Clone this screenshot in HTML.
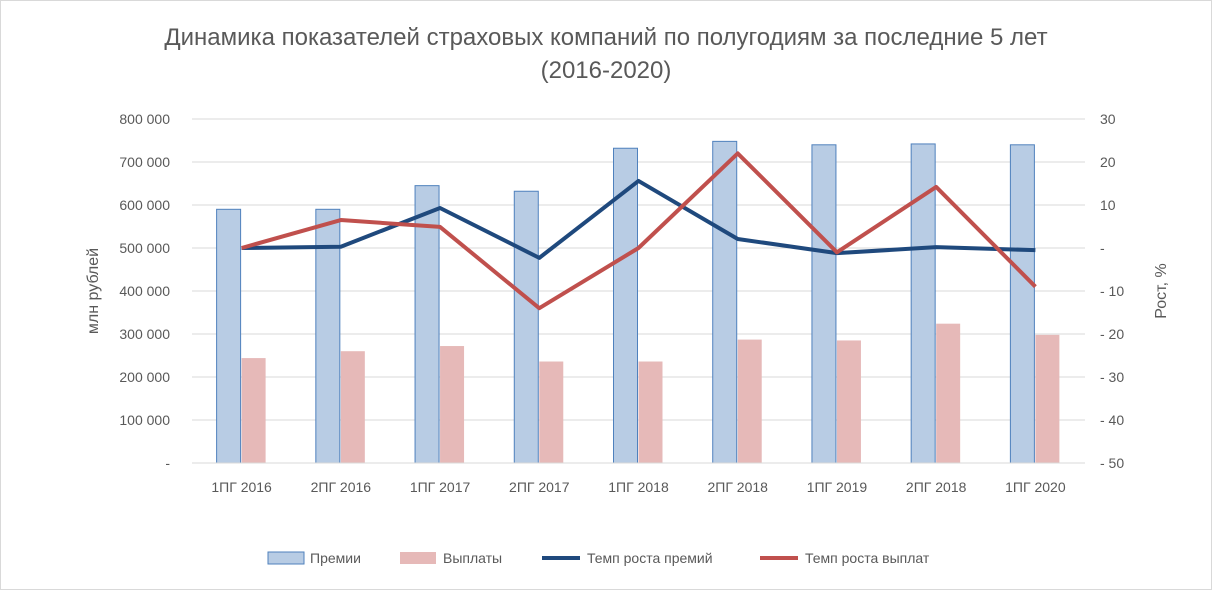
<!DOCTYPE html>
<html><head><meta charset="utf-8"><style>
body{margin:0;background:#fff;font-family:"Liberation Sans",sans-serif}
svg text{font-family:"Liberation Sans",sans-serif;fill:#595959}
</style></head><body>
<svg id="chart" width="1212" height="590" xmlns="http://www.w3.org/2000/svg">
<rect x="0.5" y="0.5" width="1211" height="589" fill="#fff" stroke="#d9d9d9"/>
<text x="606" y="45" text-anchor="middle" font-size="24">Динамика показателей страховых компаний по полугодиям за последние 5 лет</text>
<text x="606" y="78" text-anchor="middle" font-size="24">(2016-2020)</text>
<text transform="translate(98,291) rotate(-90)" text-anchor="middle" font-size="16">млн рублей</text>
<text transform="translate(1166,291) rotate(-90)" text-anchor="middle" font-size="16">Рост, %</text>
<g id="grid"></g><g id="bars"></g><g id="lines"></g><g id="axes"></g>
<g font-size="14">
<rect x="268" y="552" width="36" height="12" fill="#b8cce4" stroke="#4f81bd"/><text x="310" y="563">Премии</text>
<rect x="400" y="552" width="36" height="12" fill="#e6b9b8"/><text x="443" y="563">Выплаты</text>
<line x1="542" y1="558" x2="580" y2="558" stroke="#1f497d" stroke-width="4"/><text x="587" y="563">Темп роста премий</text>
<line x1="760" y1="558" x2="798" y2="558" stroke="#c0504d" stroke-width="4"/><text x="805" y="563">Темп роста выплат</text>
</g>
</svg>
<script>
const categories=["1ПГ 2016","2ПГ 2016","1ПГ 2017","2ПГ 2017","1ПГ 2018","2ПГ 2018","1ПГ 2019","2ПГ 2018","1ПГ 2020"];
const premiums=[590000,590000,645000,632000,732000,748000,740000,742000,740000];
const payouts=[244000,260000,272000,236000,236000,287000,285000,324000,298000];
const premGrowth=[0,0.3,9.3,-2.3,15.6,2.1,-1.2,0.2,-0.5];
const payGrowth=[0,6.5,4.9,-14,0,22,-1,14.2,-9];
const leftTicks=["-","100 000","200 000","300 000","400 000","500 000","600 000","700 000","800 000"];
const rightTicks=["- 50","- 40","- 30","- 20","- 10","-","10","20","30"];
const NS="http://www.w3.org/2000/svg";
const x0=192,x1=1085,yTop=119,yBot=463;
const band=(x1-x0)/categories.length;
const yL=v=>yBot-(v/800000)*(yBot-yTop);
const yR=v=>yBot-((v+50)/80)*(yBot-yTop);
const xc=i=>x0+band*(i+0.5);
function mk(tag,attrs,parent){const e=document.createElementNS(NS,tag);for(const k in attrs)e.setAttribute(k,attrs[k]);document.getElementById(parent).appendChild(e);return e;}
leftTicks.forEach((t,i)=>{
 const y=yBot-i*(yBot-yTop)/8;
 const g=mk("line",{x1:x0,x2:x1,y1:y,y2:y,stroke:"#d9d9d9"},"grid");
 
 
 const l=mk("text",{x:170,y:y+5,"text-anchor":"end","font-size":"14"},"axes");l.textContent=t;
 
 
 const r=mk("text",{x:1100,y:y+5,"font-size":"14"},"axes");r.textContent=rightTicks[i];
 
 
});
const bw=24;
categories.forEach((c,i)=>{
 const cx=xc(i);
 const b1=mk("rect",{x:cx-bw-1,y:yL(premiums[i]),width:bw,height:yBot-yL(premiums[i]),fill:"#b8cce4",stroke:"#4f81bd","stroke-width":1},"bars");
 
 
 const b2=mk("rect",{x:cx,y:yL(payouts[i]),width:bw,height:yBot-yL(payouts[i]),fill:"#e6b9b8"},"bars");
 
 
 const t=mk("text",{x:cx,y:492,"text-anchor":"middle","font-size":"14"},"axes");t.textContent=c;
 
 
});
const ax=mk("line",{x1:x0,x2:x1,y1:yBot,y2:yBot,stroke:"#d9d9d9"},"axes");


const p1=mk("polyline",{points:premGrowth.map((v,i)=>xc(i)+","+yR(v)).join(" "),fill:"none",stroke:"#1f497d","stroke-width":4,"stroke-linejoin":"round"},"lines");


const p2=mk("polyline",{points:payGrowth.map((v,i)=>xc(i)+","+yR(v)).join(" "),fill:"none",stroke:"#c0504d","stroke-width":4,"stroke-linejoin":"round"},"lines");


</script>
</body></html>
